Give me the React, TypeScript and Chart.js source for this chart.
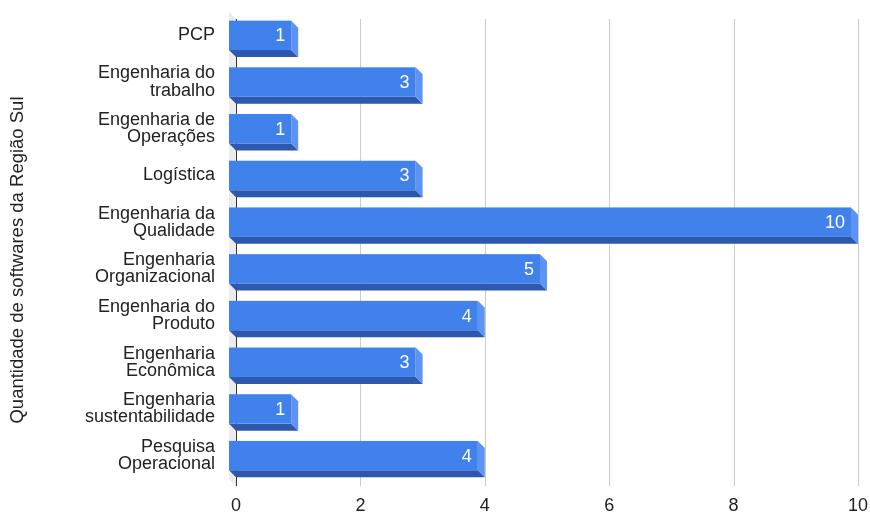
import React, { useEffect, useRef } from "react";
import { Chart, registerables } from "chart.js";

Chart.register(...registerables);

const categories: (string | string[])[] = [
  "PCP",
  ["Engenharia do", "trabalho"],
  ["Engenharia de", "Operações"],
  "Logística",
  ["Engenharia da", "Qualidade"],
  ["Engenharia", "Organizacional"],
  ["Engenharia do", "Produto"],
  ["Engenharia", "Econômica"],
  ["Engenharia", "sustentabilidade"],
  ["Pesquisa", "Operacional"],
];
const softwareCounts = [1, 3, 1, 3, 10, 5, 4, 3, 1, 4];
const xTicks = [0, 2, 4, 6, 8, 10];
const yTitle = "Quantidade de softwares da Região Sul";

const FONT = "'Liberation Sans', Arial, sans-serif";
const DEPTH = 7;

const zeroPad = (s: any) => {
  s.paddingTop = 0;
  s.paddingBottom = 0;
  s.paddingLeft = 0;
  s.paddingRight = 0;
};

const threeD = {
  id: "threeD",
  beforeDatasetsDraw(chart: any) {
    const { ctx, chartArea: a, scales } = chart;
    const xs = scales.x;
    ctx.save();
    // wall
    ctx.fillStyle = "#ebebeb";
    ctx.beginPath();
    ctx.moveTo(a.left - DEPTH, a.top);
    ctx.lineTo(a.left, a.top + DEPTH);
    ctx.lineTo(a.left, a.bottom + DEPTH);
    ctx.lineTo(a.left - DEPTH, a.bottom);
    ctx.closePath();
    ctx.fill();
    // gridlines
    xTicks.forEach((t) => {
      if (t === 0) return;
      const x = Math.round(xs.getPixelForValue(t)) + 0.5;
      ctx.strokeStyle = "#cccccc";
      ctx.lineWidth = 1;
      ctx.beginPath();
      ctx.moveTo(x, a.top + DEPTH);
      ctx.lineTo(x, a.bottom + DEPTH);
      ctx.stroke();
    });
    const x0 = Math.round(xs.getPixelForValue(0)) + 0.5;
    ctx.strokeStyle = "#333333";
    ctx.beginPath();
    ctx.moveTo(x0, a.top + DEPTH);
    ctx.lineTo(x0, a.bottom + DEPTH);
    ctx.stroke();

    const meta = chart.getDatasetMeta(0);
    meta.data.forEach((bar: any, i: number) => {
      const L = bar.base - DEPTH;
      const R = bar.x - DEPTH;
      const yt = bar.y - bar.height / 2;
      const yb = bar.y + bar.height / 2;
      // bottom face
      ctx.fillStyle = "#2c59ad";
      ctx.beginPath();
      ctx.moveTo(L, yb);
      ctx.lineTo(R, yb);
      ctx.lineTo(R + DEPTH, yb + DEPTH);
      ctx.lineTo(L + DEPTH, yb + DEPTH);
      ctx.closePath();
      ctx.fill();
      // side face
      ctx.fillStyle = "#5d93f2";
      ctx.beginPath();
      ctx.moveTo(R, yt);
      ctx.lineTo(R + DEPTH, yt + DEPTH);
      ctx.lineTo(R + DEPTH, yb + DEPTH);
      ctx.lineTo(R, yb);
      ctx.closePath();
      ctx.fill();
      // front
      ctx.fillStyle = "#4081ec";
      ctx.fillRect(L, yt, R - L, yb - yt);
      // label
      ctx.fillStyle = "#ffffff";
      ctx.font = `18px ${FONT}`;
      ctx.textAlign = "right";
      ctx.textBaseline = "middle";
      ctx.fillText(String(softwareCounts[i]), R - 6, bar.y + 1);
    });
    // y title
    ctx.translate(18, 260);
    ctx.rotate(-Math.PI / 2);
    ctx.fillStyle = "#222222";
    ctx.font = `18.5px ${FONT}`;
    ctx.textAlign = "center";
    ctx.textBaseline = "middle";
    ctx.fillText(yTitle, 0, 0);
    ctx.restore();
    return false;
  },
};

export default function App() {
  const ref = useRef<HTMLCanvasElement | null>(null);
  useEffect(() => {
    if (!ref.current) return;
    const chart = new Chart(ref.current, {
      type: "bar",
      data: {
        labels: categories,
        datasets: [
          {
            data: softwareCounts,
            backgroundColor: "transparent",
            categoryPercentage: 1,
            barPercentage: 0.63,
          },
        ],
      },
      options: {
        indexAxis: "y",
        responsive: false,
        animation: false,
        layout: { padding: { top: 12, right: 12, bottom: 0, left: 0 } },
        plugins: { legend: { display: false }, tooltip: { enabled: false } },
        scales: {
          x: {
            min: 0,
            max: 10,
            afterFit: (s: any) => {
              s.height = 34;
              zeroPad(s);
            },
            afterBuildTicks: (s: any) => {
              s.ticks = xTicks.map((v) => ({ value: v }));
            },
            grid: { display: false, drawTicks: false },
            border: { display: false },
            ticks: {
              padding: 16,
              color: "#222222",
              font: { family: FONT, size: 18 },
            },
          },
          y: {
            afterFit: (s: any) => {
              s.width = 236;
              zeroPad(s);
            },
            grid: { display: false, drawTicks: false },
            border: { display: false },
            ticks: {
              padding: 21,
              color: "#222222",
              font: { family: FONT, size: 18, lineHeight: 0.95 },
            },
          },
        },
      },
      plugins: [threeD],
    } as any);
    return () => chart.destroy();
  }, []);
  return (
    <div style={{ position: "fixed", left: 0, top: 0, width: 870, height: 513, background: "#fff" }}>
      <canvas ref={ref} width={870} height={513} />
    </div>
  );
}
